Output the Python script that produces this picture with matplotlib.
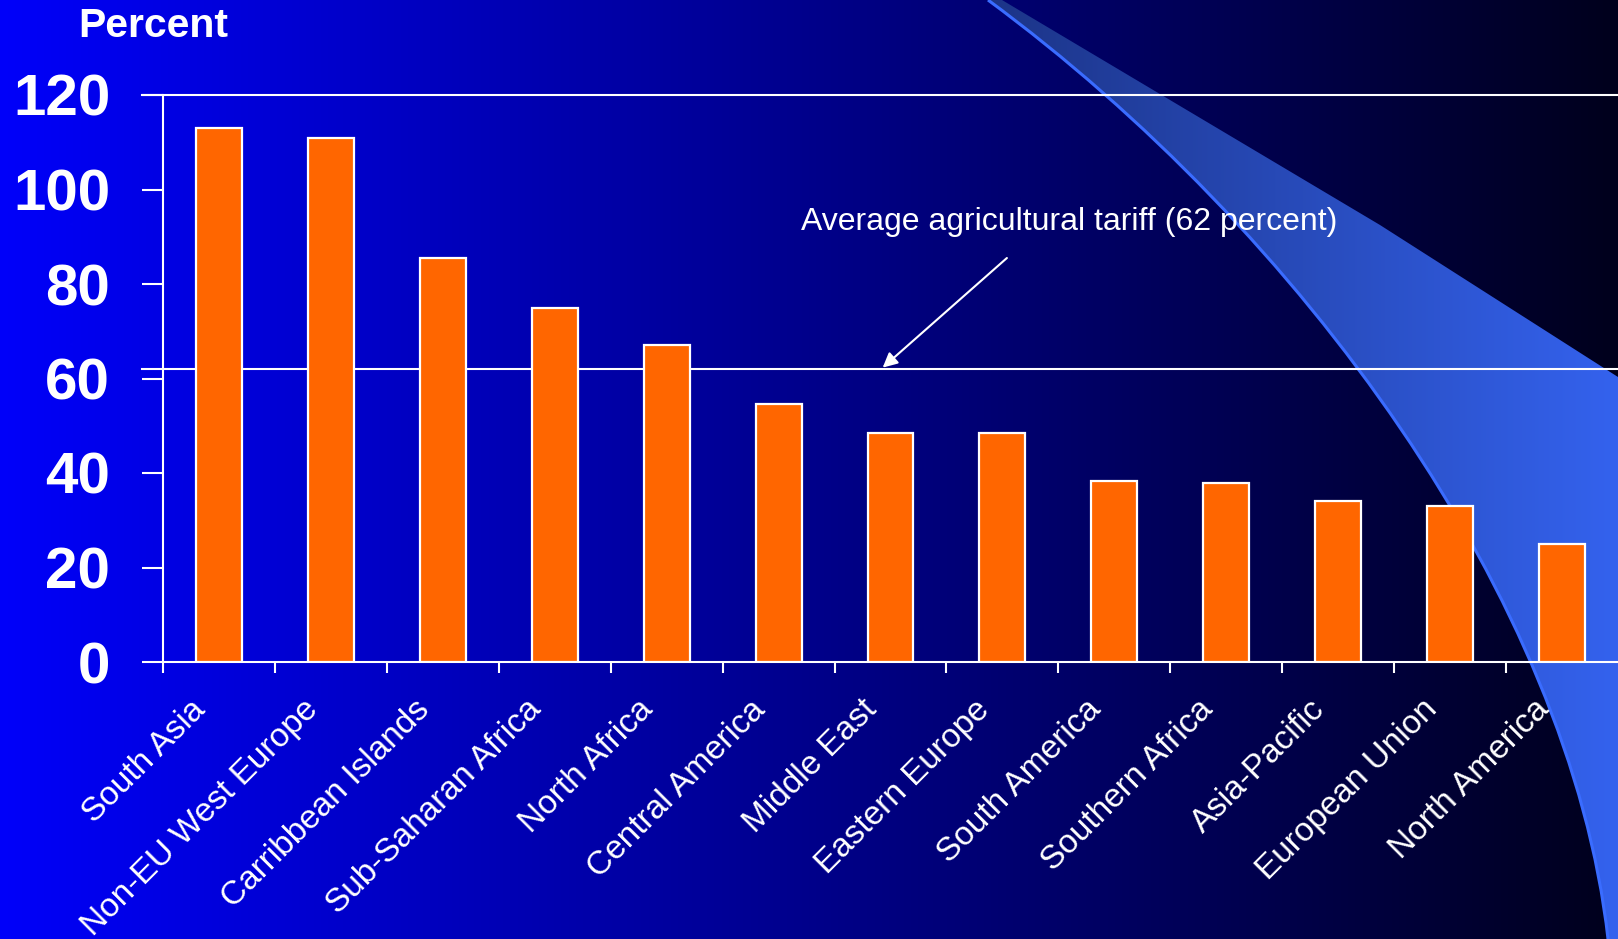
#!/usr/bin/env python3
"""Average agricultural tariffs by region, bar chart on a slide-style background."""
import matplotlib
matplotlib.use("Agg")
import matplotlib.pyplot as plt  # noqa: E402
import matplotlib.transforms as mtrans  # noqa: E402
import numpy as np  # noqa: E402
from matplotlib.path import Path  # noqa: E402
from matplotlib.patches import PathPatch  # noqa: E402

regions = ["South Asia", "Non-EU West Europe", "Carribbean Islands",
           "Sub-Saharan Africa", "North Africa", "Central America",
           "Middle East", "Eastern Europe", "South America",
           "Southern Africa", "Asia-Pacific", "European Union",
           "North America"]
tariff = [113, 111, 85.5, 75, 67, 54.5, 48.5, 48.5, 38.3, 37.8, 34, 33, 25]
avg_tariff = 62
y_ticks = [0, 20, 40, 60, 80, 100, 120]

W, H = 1618, 939
C_BAR = "#FF6600"
plt.rcParams.update({"font.family": ["Liberation Sans", "DejaVu Sans"]})

fig = plt.figure(figsize=(W / 100, H / 100), dpi=100)

# fondo: degradado horizontal azul -> casi negro
bg = fig.add_axes([0, 0, 1, 1], zorder=-1)
bg.set_xlim(0, W)
bg.set_ylim(H, 0)
bg.axis("off")
t = np.linspace(0, 1, W)
grad = np.zeros((1, W, 3))
grad[0, :, 2] = (250 - 222 * t) / 255
bg.imshow(grad, extent=[0, W, H, 0], aspect="auto", interpolation="bilinear")

# banda decorativa
verts = [(988, 0), (1300, 230), (1570, 600), (1608, 939),
         (1618, 939), (1618, 377), (1380, 225), (1002, 0), (988, 0)]
codes = [Path.MOVETO, Path.CURVE4, Path.CURVE4, Path.CURVE4,
         Path.LINETO, Path.LINETO, Path.LINETO, Path.LINETO, Path.CLOSEPOLY]
swoosh = PathPatch(Path(verts, codes), facecolor="none", edgecolor="none")
bg.add_patch(swoosh)
s = np.clip((np.linspace(0, W, W) - 988) / (W - 988), 0, 1)
sg = np.zeros((1, W, 3))
sg[0, :, 0] = (28 + 24 * s) / 255
sg[0, :, 1] = (52 + 46 * s) / 255
sg[0, :, 2] = (135 + 103 * s) / 255
im = bg.imshow(sg, extent=[0, W, H, 0], aspect="auto", interpolation="bilinear")
im.set_clip_path(swoosh)
edge = Path(verts[:4], codes[:4])
bg.add_patch(PathPatch(edge, facecolor="none", edgecolor="#3A6CFF", lw=2.2))

# grafico
ax = fig.add_axes([163 / W, 1 - 662 / H, (W - 163) / W, (662 - 95) / H])
ax.set_facecolor("none")
x = np.arange(len(regions))
ax.bar(x, tariff, width=0.41, color=C_BAR, edgecolor="white", linewidth=1.6,
       zorder=3)
ax.set_xlim(-0.5, len(regions) - 0.5)
ax.set_ylim(0, 120)

tick_frac = 21 / (W - 163)
for yv in (120, avg_tariff):
    ax.axhline(yv, xmin=-tick_frac, xmax=1, color="white", lw=1.5,
               clip_on=False, zorder=2)

for side in ("top", "right"):
    ax.spines[side].set_visible(False)
for side in ("left", "bottom"):
    ax.spines[side].set_color("white")
    ax.spines[side].set_linewidth(1.5)

ax.set_yticks(y_ticks)
ax.set_yticklabels([str(v) for v in y_ticks], fontsize=42, fontweight="bold",
                   color="white")
ax.tick_params(axis="y", direction="out", length=15, width=1.5,
               color="white", pad=23)

ax.set_xticks(np.arange(-0.5, len(regions) - 0.5, 1))
ax.set_xticklabels([])
ax.tick_params(axis="x", which="major", direction="out", length=8,
               width=1.5, color="white")
ax.set_xticks(x, minor=True)
ax.set_xticklabels(regions, minor=True, rotation=45, ha="right",
                   fontsize=24, color="white")
ax.tick_params(axis="x", which="minor", length=0, pad=23)
shift = mtrans.ScaledTranslation(-7 / 100, 0, fig.dpi_scale_trans)
for lab in ax.get_xticklabels(minor=True):
    lab.set_transform(lab.get_transform() + shift)

ax.text(7.6, 93.1, "Average agricultural tariff (62 percent)", ha="center",
        va="center", fontsize=23, color="white")
ax.annotate("", xy=(5.93, avg_tariff + 0.3), xytext=(7.04, 85.5),
            arrowprops=dict(arrowstyle="-|>", color="white", lw=1.5,
                            mutation_scale=22, shrinkA=0, shrinkB=0))

fig.text(78 / W, 1 - 37 / H, "Percent", fontsize=29.5, fontweight="bold",
         color="white", ha="left", va="baseline")

fig.savefig("out.png", dpi=100)
plt.close(fig)
